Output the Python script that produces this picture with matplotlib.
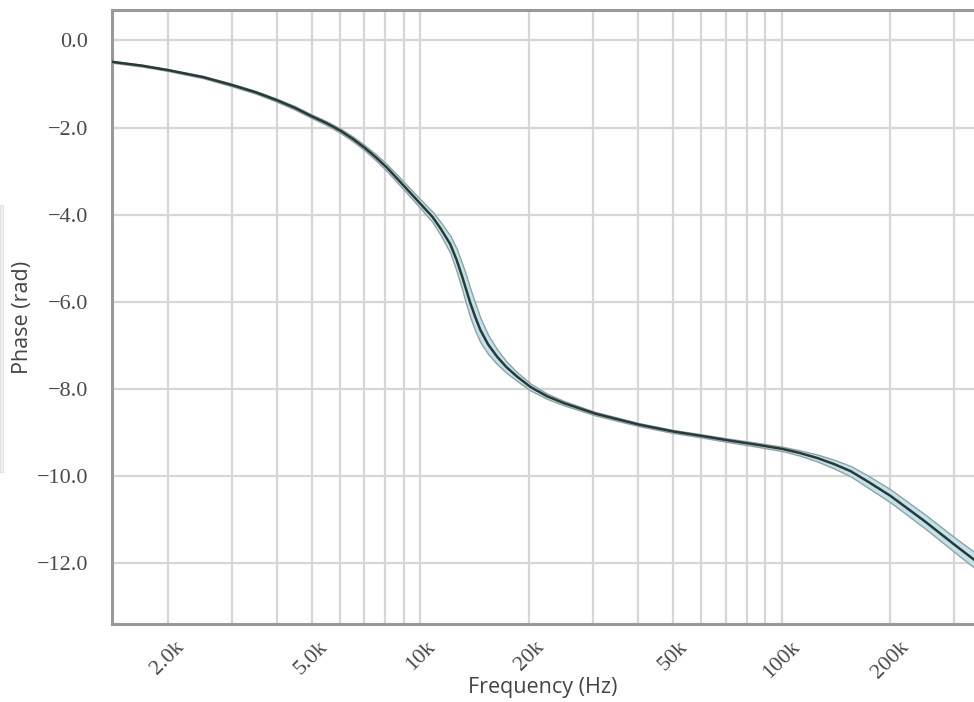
import numpy as np
import matplotlib
matplotlib.use("Agg")
import matplotlib.pyplot as plt
from matplotlib.patches import Rectangle
from matplotlib.ticker import FixedLocator, FuncFormatter, NullFormatter

plt.rcParams["font.family"] = ["Liberation Serif", "DejaVu Serif"]

# Phase response (frequency in Hz, phase in rad)
freq = [1400, 1700, 2000, 2500, 3000, 3500, 4000, 4500, 5000, 5500,
        6000, 6500, 7000, 7500, 8100, 9100, 10000, 10800, 11400, 12100,
        12600, 13050, 13400, 13760, 14200, 14660, 15400, 16300, 17300, 18530,
        20200, 22430, 25000, 30500, 40200, 50200, 60000, 70800, 85000, 100600,
        112000, 125800, 140000, 155300, 175000, 200400, 250000, 303400, 342000]
phase = [-0.49, -0.58, -0.68, -0.84, -1.02, -1.19, -1.37, -1.55, -1.74, -1.90,
         -2.07, -2.26, -2.46, -2.67, -2.93, -3.38, -3.75, -4.05, -4.33, -4.68,
         -5.04, -5.42, -5.73, -6.04, -6.36, -6.65, -6.98, -7.26, -7.50, -7.72,
         -7.96, -8.17, -8.33, -8.57, -8.82, -8.98, -9.08, -9.18, -9.28, -9.38,
         -9.47, -9.59, -9.73, -9.89, -10.15, -10.46, -11.05, -11.60, -11.93]
# half height of the shaded uncertainty band (rad)
band = [0.02, 0.02, 0.02, 0.025, 0.03, 0.03, 0.035, 0.04, 0.04, 0.045,
        0.05, 0.055, 0.06, 0.07, 0.08, 0.09, 0.10, 0.12, 0.15, 0.20,
        0.26, 0.30, 0.33, 0.33, 0.32, 0.28, 0.22, 0.17, 0.13, 0.10,
        0.08, 0.06, 0.05, 0.04, 0.035, 0.035, 0.035, 0.04, 0.045, 0.05,
        0.06, 0.08, 0.10, 0.12, 0.14, 0.15, 0.16, 0.17, 0.18]

xticks = [2000, 5000, 10000, 20000, 50000, 100000, 200000]
xticklabels = ["2.0k", "5.0k", "10k", "20k", "50k", "100k", "200k"]
yticks = [0, -2, -4, -6, -8, -10, -12]

freq = np.array(freq)
phase = np.array(phase)
band = np.array(band)

fig = plt.figure(figsize=(9.74, 7.02), dpi=100)
ax = fig.add_axes([112 / 974, 1 - 624 / 702, 1 - 112 / 974, (624 - 10) / 702])

# faint clipped panel at the far left edge
fig.patches.append(Rectangle((0, 1 - 472 / 702), 3 / 974, 267 / 702,
                             transform=fig.transFigure, facecolor="#f2f2f2",
                             edgecolor="#e2e2e2", linewidth=0.8))

ax.fill_between(freq, phase - band, phase + band, facecolor="#c2e3ea",
                edgecolor="#8ea3a6", linewidth=1.0, zorder=3)
ax.plot(freq, phase, color="#2b3838", linewidth=1.8, zorder=4)

ax.set_xscale("log")
ax.set_xlim(1400, 341000)
ax.set_ylim(-13.4, 0.7)

ax.xaxis.set_major_locator(FixedLocator(xticks))
ax.set_xticklabels(xticklabels)
minor = [m * 10 ** e for e in range(3, 6) for m in range(1, 10)]
minor = [v for v in minor if v not in xticks]
ax.xaxis.set_minor_locator(FixedLocator(minor))
ax.xaxis.set_minor_formatter(NullFormatter())

ax.yaxis.set_major_locator(FixedLocator(yticks))
ax.yaxis.set_major_formatter(FuncFormatter(lambda v, p: f"{v:.1f}".replace("-", "\u2212")))

ax.grid(True, which="both", axis="x", color="#d6d6d6", linewidth=1.6, zorder=0)
ax.grid(True, which="major", axis="y", color="#d6d6d6", linewidth=1.6, zorder=0)
ax.set_axisbelow(True)

ax.tick_params(axis="both", which="both", length=0)
ax.tick_params(axis="y", pad=17, labelsize=16, labelcolor="#4a4a4a")
ax.tick_params(axis="x", pad=10, labelsize=16, labelcolor="#4a4a4a")
for lab in ax.get_xticklabels():
    lab.set_rotation(45)
    lab.set_ha("center")

for side in ["left", "top", "bottom"]:
    ax.spines[side].set_color("#999999")
    ax.spines[side].set_linewidth(2.2)
ax.spines["right"].set_visible(False)

ax.set_xlabel("Frequency (Hz)", fontsize=15.5, family="Open Sans", color="#444444")
ax.set_ylabel("Phase (rad)", fontsize=15.5, family="Open Sans", color="#444444")
ax.xaxis.set_label_coords(0.5, -0.086)
ax.yaxis.set_label_coords(-0.092, 0.5)

fig.savefig("out.png", dpi=100)
